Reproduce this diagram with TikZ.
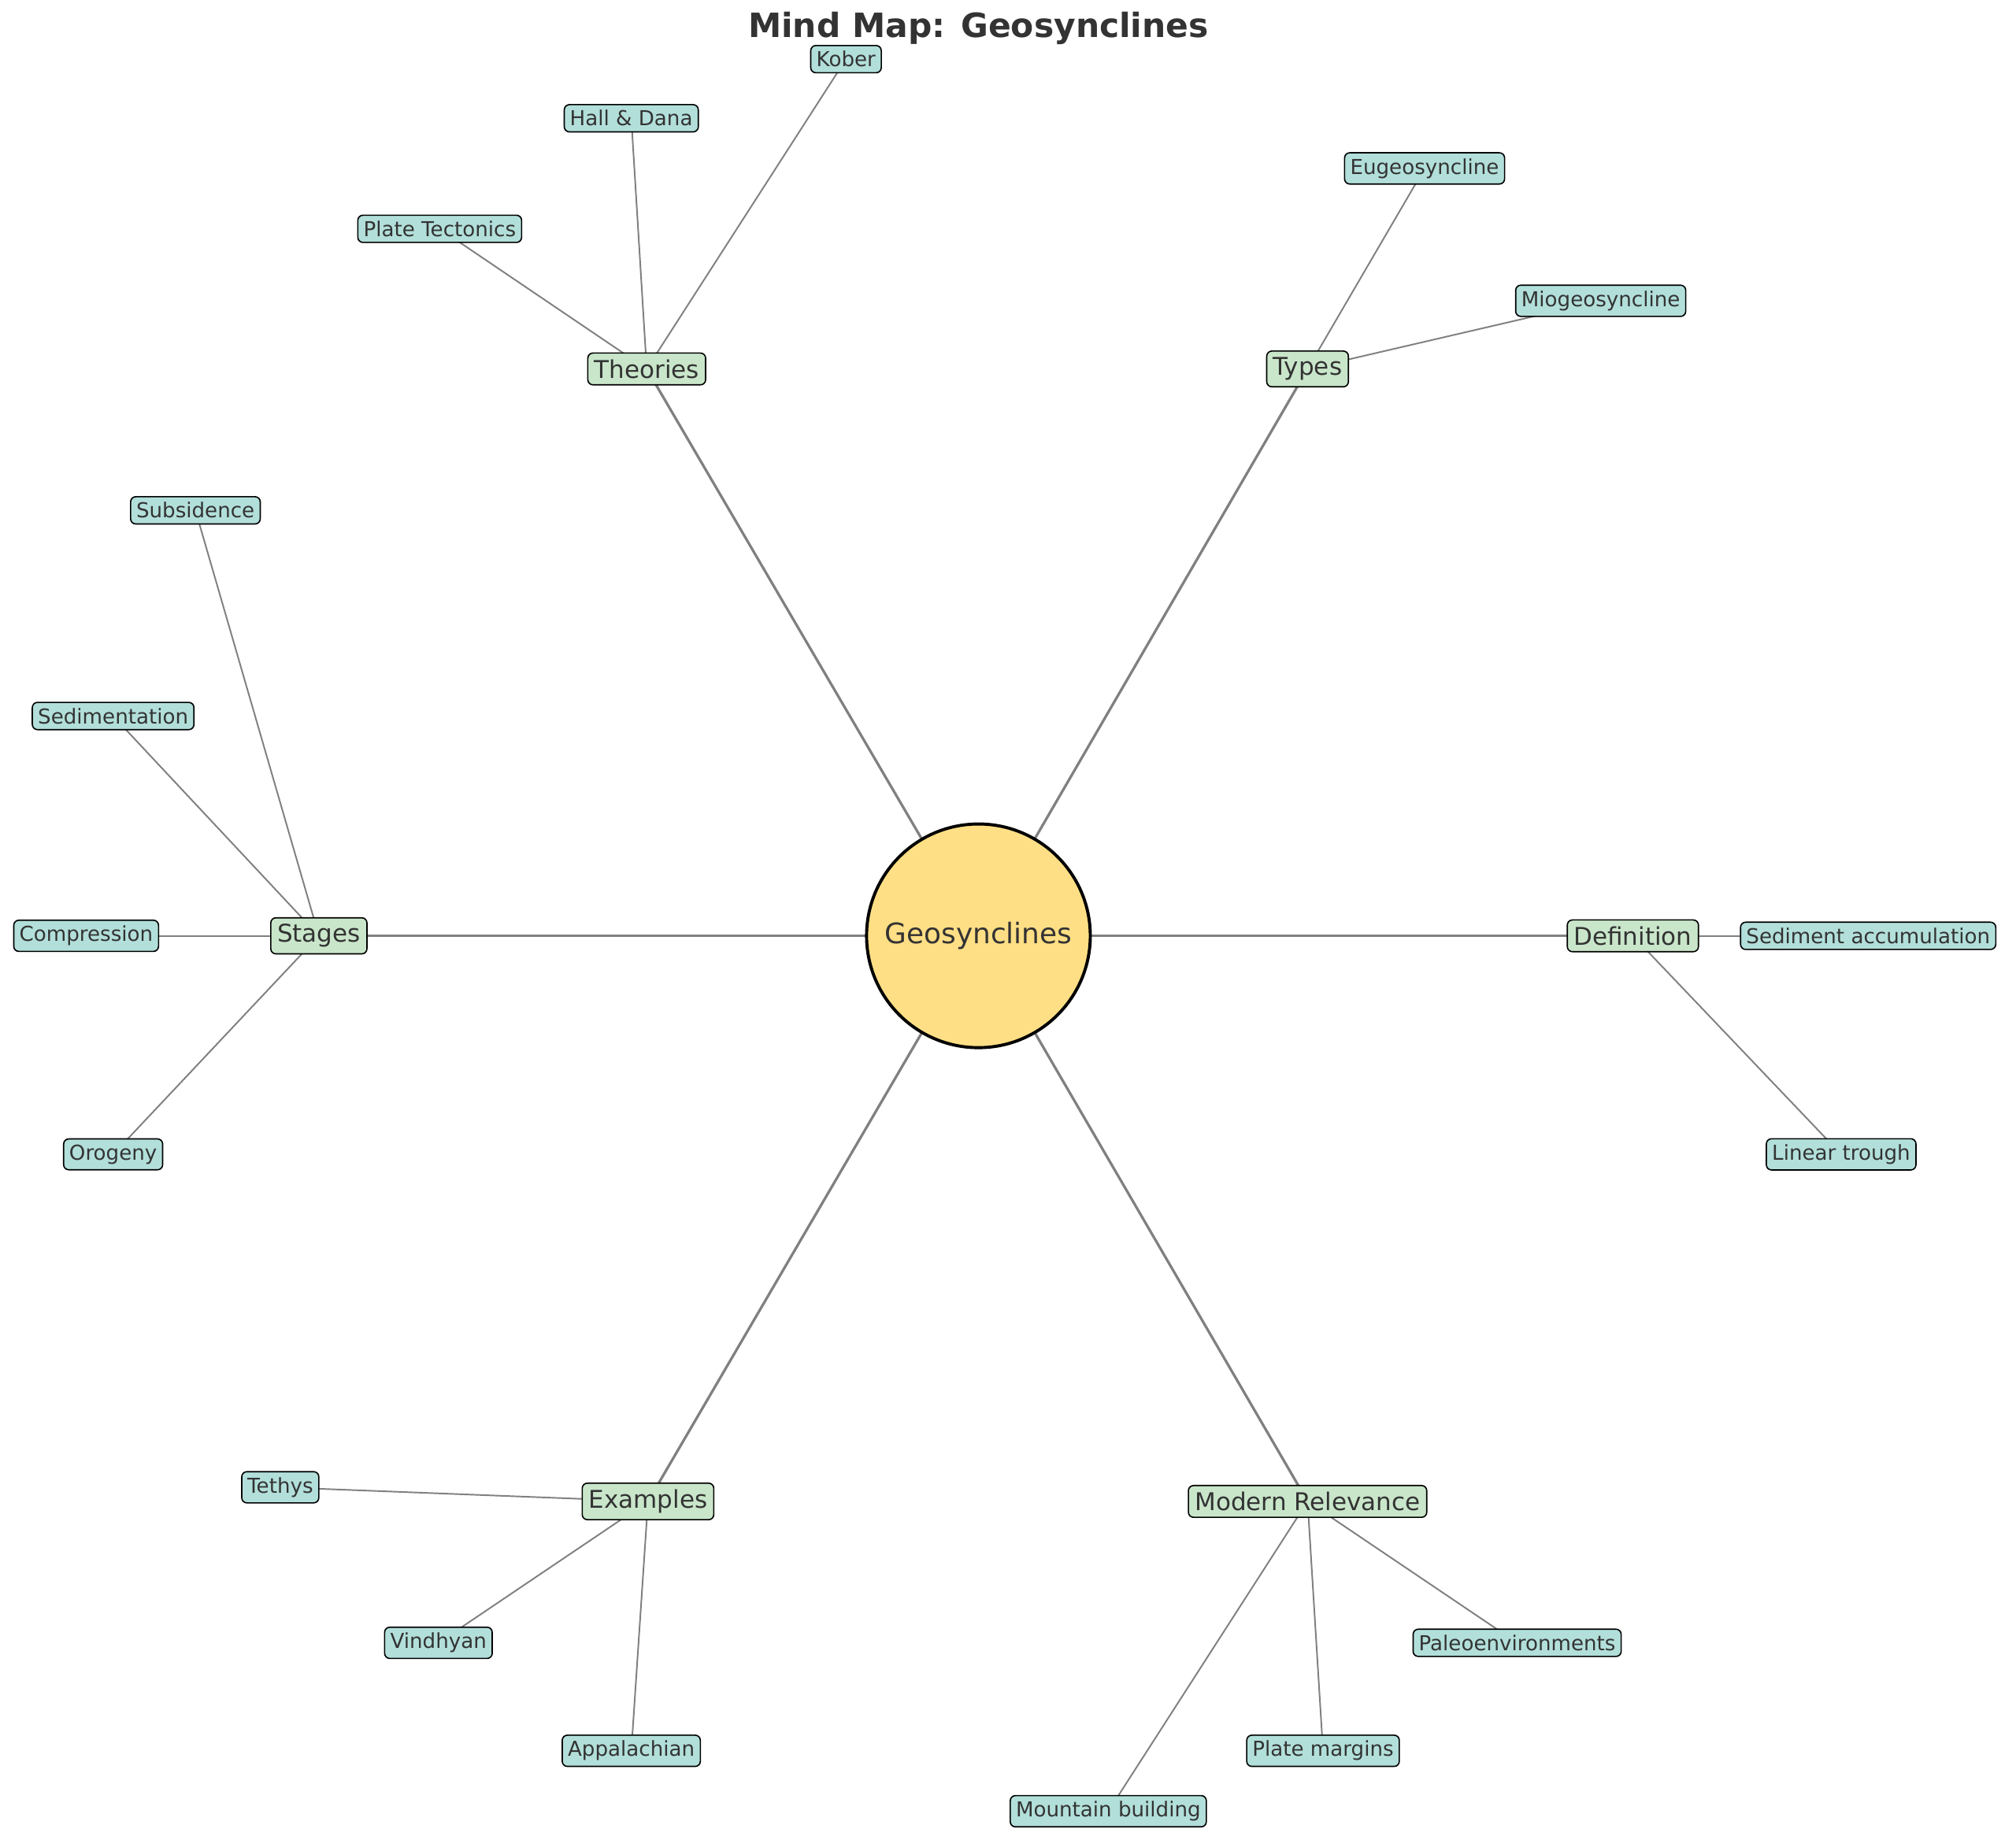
\documentclass[tikz,border=0pt]{standalone}
\usepackage{fontspec}
\setmainfont{DejaVu Sans}
\usetikzlibrary{backgrounds}
\definecolor{cyel}{HTML}{FFDF85}
\definecolor{cmain}{HTML}{C9E6CA}
\definecolor{csub}{HTML}{B2DFDA}
\definecolor{ctext}{HTML}{333333}
\begin{document}
\begin{tikzpicture}[x=0.5pt,y=-0.5pt,
 hub/.style={circle,draw=black,line width=1.2pt,fill=cyel,minimum size=87pt,inner sep=0pt,font=\fontsize{11}{13}\selectfont,text=ctext},
 mainbox/.style={draw=black,line width=0.5pt,rounded corners=2pt,fill=cmain,font=\fontsize{9.5}{11}\selectfont,text=ctext,inner sep=2.5pt},
 subbox/.style={draw=black,line width=0.5pt,rounded corners=2pt,fill=csub,font=\fontsize{8}{9.5}\selectfont,text=ctext,inner sep=2.2pt},
 mainedge/.style={draw=gray,line width=1pt},
 subedge/.style={draw=gray,line width=0.6pt}]
\useasboundingbox (0,0) rectangle (1568,1431);
\node[font=\fontsize{13}{15}\selectfont\bfseries,text=ctext] (title) at (761,22) {Mind Map: Geosynclines};
\node[hub] (c) at (761,728) {Geosynclines};
\node[mainbox] (def) at (1270,728) {Definition};
\node[mainbox] (typ) at (1017,287) {Types};
\node[mainbox] (the) at (503,287) {Theories};
\node[mainbox] (sta) at (248,728) {Stages};
\node[mainbox] (exa) at (504,1168) {Examples};
\node[mainbox] (mod) at (1017,1168) {Modern Relevance};
\node[subbox] (d1) at (1453,728) {Sediment accumulation};
\node[subbox] (d2) at (1432,898) {Linear trough};
\node[subbox] (t1) at (1108,131) {Eugeosyncline};
\node[subbox] (t2) at (1245,234) {Miogeosyncline};
\node[subbox] (h1) at (342,178) {Plate Tectonics};
\node[subbox] (h2) at (491,92) {Hall \& Dana};
\node[subbox] (h3) at (658,46) {Kober};
\node[subbox] (s1) at (152,397) {Subsidence};
\node[subbox] (s2) at (88,557) {Sedimentation};
\node[subbox] (s3) at (67,728) {Compression};
\node[subbox] (s4) at (88,898) {Orogeny};
\node[subbox] (e1) at (218,1157) {Tethys};
\node[subbox] (e2) at (341,1278) {Vindhyan};
\node[subbox] (e3) at (491,1362) {Appalachian};
\node[subbox] (m1) at (1180,1278) {Paleoenvironments};
\node[subbox] (m2) at (1029,1362) {Plate margins};
\node[subbox] (m3) at (862,1409) {Mountain building};
\begin{scope}[on background layer]
\foreach \n in {def,typ,the,sta,exa,mod} \draw[mainedge] (c.center) -- (\n.center);
\foreach \a/\b in {def/d1,def/d2,typ/t1,typ/t2,the/h1,the/h2,the/h3,sta/s1,sta/s2,sta/s3,sta/s4,exa/e1,exa/e2,exa/e3,mod/m1,mod/m2,mod/m3}
  \draw[subedge] (\a.center) -- (\b.center);
\end{scope}
\end{tikzpicture}
\end{document}
